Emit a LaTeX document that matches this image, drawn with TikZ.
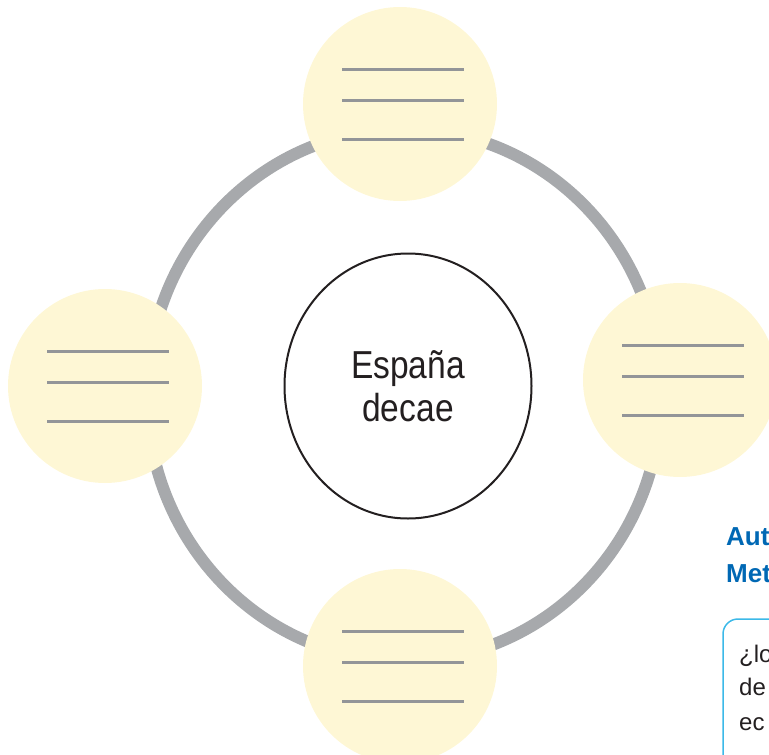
\documentclass[tikz,border=0pt]{standalone}
\usepackage{fontspec}
\setmainfont{Liberation Sans}
\newfontfamily\narrowfont[FakeStretch=0.86]{Liberation Sans}
\usetikzlibrary{shapes.geometric}
\definecolor{ringgray}{RGB}{167,169,172}
\definecolor{paleyellow}{RGB}{254,247,213}
\definecolor{linegray}{RGB}{147,149,152}
\definecolor{inkdark}{RGB}{35,31,32}
\definecolor{headblue}{RGB}{0,104,180}
\definecolor{boxblue}{RGB}{60,185,232}

\begin{document}
\begin{tikzpicture}[x=1pt, y=-1pt, ring/.style = {draw=ringgray, line width=12pt}, blob/.style = {circle, fill=paleyellow, minimum size=194pt, inner sep=0pt}, blank/.style = {draw=linegray, line width=3pt}, head/.style = {anchor=base west, inner sep=0pt, text=headblue, font=\bfseries\fontsize{26}{30}\selectfont}, ask/.style = {anchor=base west, inner sep=0pt, text=inkdark, font=\fontsize{24}{28}\selectfont}]
        \useasboundingbox (0,0) rectangle (769,755);
        \clip (0,0) rectangle (769,755);
        \draw[ring] (404,395) ellipse [x radius=257, y radius=266];
        \node[draw=inkdark, line width=2pt, ellipse, fill=white, minimum width=247pt, minimum height=265pt, align=center, text=inkdark, font=\narrowfont\fontsize{39}{43}\selectfont] (center) at (408,386) {España\\decae};
        \foreach \n/\x/\y in {top/400/104, left/105/386, right/680/380, bottom/400/666}{
            \node[blob] (\n) at (\x,\y) {};
            \foreach \dy in {-35,-4,35}
                \draw[blank] ([shift={(-58,\dy)}]\n.center) -- ++(122,0);
        }
        \node[head] (aut) at (726,545) {Aut};
        \node[head] (met) at (726,582) {Met};
        \draw[draw=boxblue, line width=1.5pt, rounded corners=15pt] (723,619) rectangle (820,800);
        \node[ask] (ask1) at (739,662) {¿lo};
        \node[ask] (ask2) at (739,695) {de};
        \node[ask] (ask3) at (739,730) {ec};
    \end{tikzpicture}
\end{document}
